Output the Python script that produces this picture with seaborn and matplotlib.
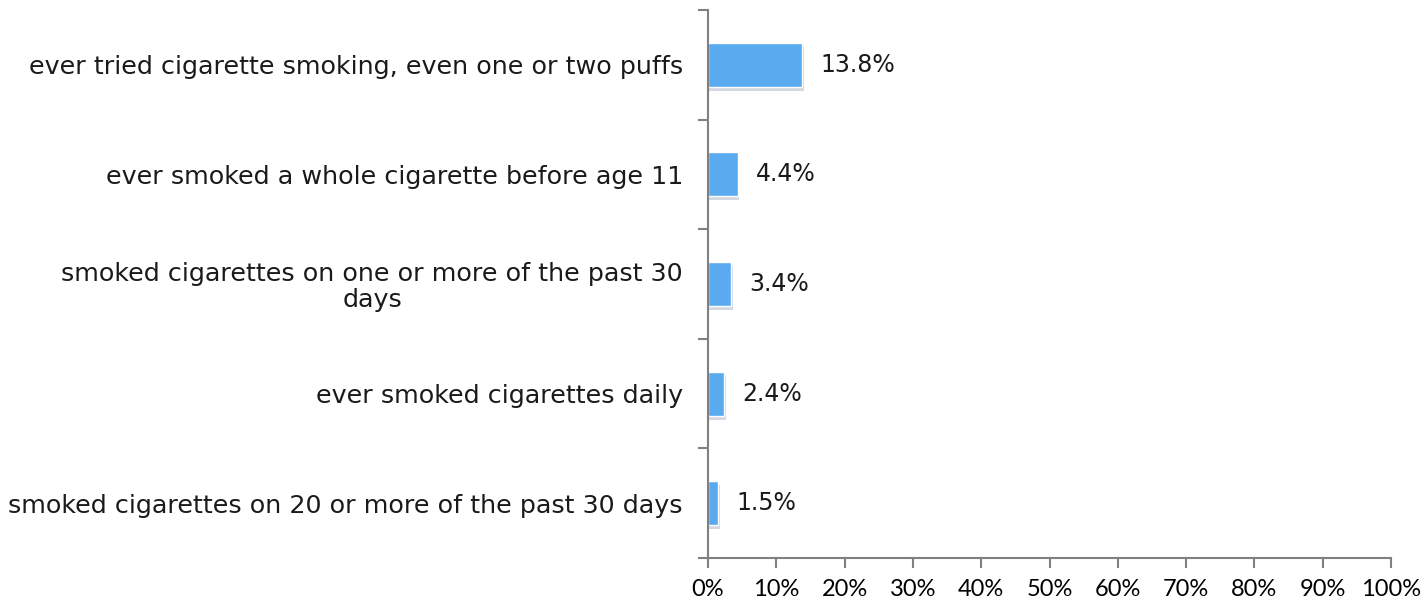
import matplotlib
matplotlib.use("Agg")
import matplotlib.pyplot as plt
import matplotlib.patheffects as pe
from matplotlib.ticker import FixedLocator, PercentFormatter
import seaborn as sns
import pandas as pd
import numpy as np

categories = [
    "ever tried cigarette smoking, even one or two puffs",
    "ever smoked a whole cigarette before age 11",
    "smoked cigarettes on one or more of the past 30\ndays",
    "ever smoked cigarettes daily",
    "smoked cigarettes on 20 or more of the past 30 days",
]
values = [13.8, 4.4, 3.4, 2.4, 1.5]
value_labels = ["13.8%", "4.4%", "3.4%", "2.4%", "1.5%"]
x_ticks = [0, 10, 20, 30, 40, 50, 60, 70, 80, 90, 100]

sns.set_theme(style="white")
plt.rcParams['font.family'] = ['DejaVu Sans']

df = pd.DataFrame({"cat": categories, "val": values})

fig = plt.figure(figsize=(14.24, 6.08), dpi=100)
ax = fig.add_axes([708/1424, 1-558/608, (1391-708)/1424, (558-10)/608])

sns.barplot(data=df, x="val", y="cat", ax=ax, color="#5AAAF0", width=0.4,
            saturation=1, orient="h")
for p in ax.patches:
    p.set_path_effects([pe.SimplePatchShadow(offset=(1, -3), shadow_rgbFace="#7080a0", alpha=0.3),
                        pe.Normal()])

for i, (v, lab) in enumerate(zip(values, value_labels)):
    ax.annotate(lab, xy=(v, i), xytext=(13, 0), textcoords="offset points",
                va="center", ha="left", fontsize=17, color="#1a1a1a",
                fontfamily="DejaVu Sans")

ax.set_xlim(0, 100)
ax.set_ylim(len(categories) - 0.5, -0.5)
ax.xaxis.set_major_locator(FixedLocator(x_ticks))
ax.xaxis.set_major_formatter(PercentFormatter(decimals=0))
ax.set_xlabel("")
ax.set_ylabel("")

for s in ["top", "right"]:
    ax.spines[s].set_visible(False)
for s in ["left", "bottom"]:
    ax.spines[s].set_color("#808080")
    ax.spines[s].set_linewidth(1.5)

ax.tick_params(axis="x", which="major", direction="out", length=7, width=1.5,
               color="#808080", labelsize=17, pad=8, labelcolor="#000000", bottom=True)
for t in ax.get_xticklabels():
    t.set_fontfamily("Lato")

ax.set_yticks(np.arange(-0.5, len(categories), 1), minor=True)
ax.tick_params(axis="y", which="minor", direction="out", length=7, width=1.5,
               color="#808080", left=True)
ax.tick_params(axis="y", which="major", length=0, pad=18, labelsize=18.3,
               labelcolor="#1a1a1a")
for t in ax.get_yticklabels():
    t.set_multialignment("center")
    t.set_linespacing(1.1)

fig.savefig("out.png", dpi=100, facecolor="white")
